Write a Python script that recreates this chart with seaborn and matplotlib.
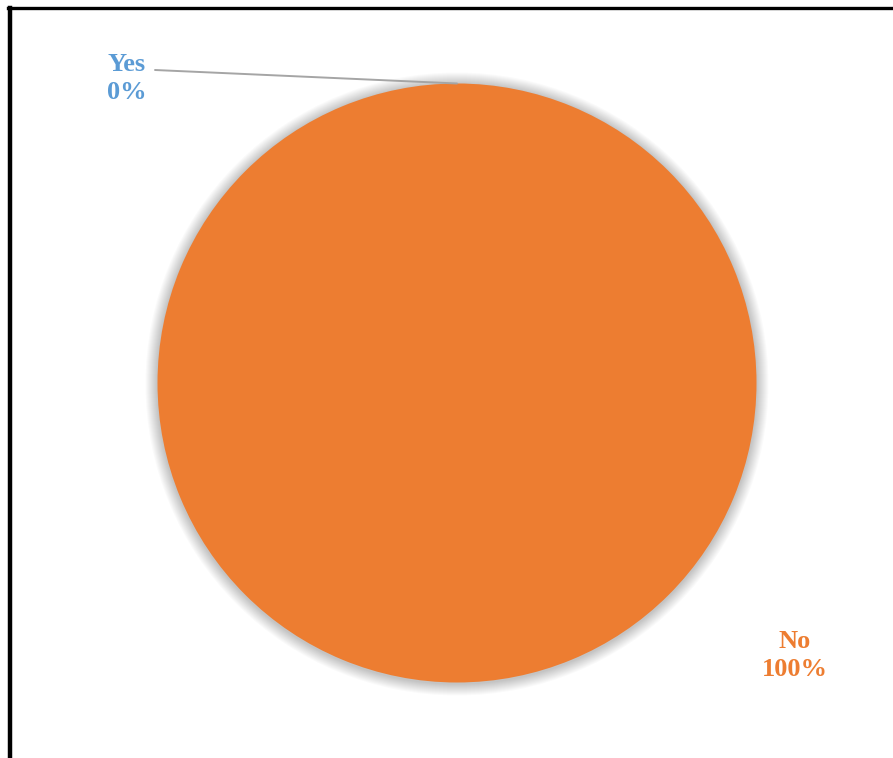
import matplotlib
matplotlib.use("Agg")
import matplotlib.pyplot as plt
from matplotlib.patches import Circle
from matplotlib.lines import Line2D
import numpy as np
import seaborn as sns

# Survey answers
categories = ["Yes", "No"]
values = [0, 100]
label_colors = ["#5B9BD5", "#ED7D31"]

sns.set_theme(style="white")
plt.rcParams["font.family"] = ["Liberation Serif", "DejaVu Serif"]
palette = sns.color_palette(label_colors)

W, H = 893, 758
fig = plt.figure(figsize=(W / 100, H / 100), dpi=100)
ax = fig.add_axes([0, 0, 1, 1])

cx, cy, r = 457, H - 383, 299.5

# soft shadow fading out around the pie
for k in range(12, 0, -1):
    ax.add_patch(Circle((cx, cy - 1), r + k, color="black", alpha=0.018, lw=0, zorder=1))

wedges, _ = ax.pie(values, colors=palette, startangle=90, counterclock=False,
                   center=(cx, cy), radius=r, frame=True,
                   wedgeprops=dict(linewidth=0, zorder=2))
ax.set_xlim(0, W)
ax.set_ylim(0, H)
ax.set_aspect("equal")
ax.axis("off")

total = sum(values)
pct = [f"{v / total * 100:.0f}%" for v in values]

# "Yes" label with a leader line to its wedge
w0 = wedges[0]
ang = np.deg2rad((w0.theta1 + w0.theta2) / 2)
anchor = (cx + r * np.cos(ang), cy + r * np.sin(ang))
ax.add_line(Line2D([155, anchor[0]], [H - 70, anchor[1]], color="#a5a5a5", lw=1.4, zorder=3))
ax.text(107, H - 53, f"{categories[0]}\n{pct[0]}", ha="left", va="top",
        fontsize=19, fontweight="bold", color=label_colors[0], linespacing=1.3, zorder=4)

# "No" label outside lower right
ax.text(795, H - 630, f"{categories[1]}\n{pct[1]}", ha="center", va="top",
        fontsize=19, fontweight="bold", color=label_colors[1], linespacing=1.3, zorder=4)

# frame around the chart area (open at right and bottom)
fig.add_artist(Line2D([9.5 / W, 9.5 / W], [0, 1 - 8 / H], transform=fig.transFigure,
                      color="black", lw=3.2, solid_capstyle="projecting"))
fig.add_artist(Line2D([8 / W, 1], [1 - 8 / H, 1 - 8 / H], transform=fig.transFigure,
                      color="black", lw=2.4, solid_capstyle="projecting"))

fig.savefig("out.png", dpi=100, facecolor="white")
